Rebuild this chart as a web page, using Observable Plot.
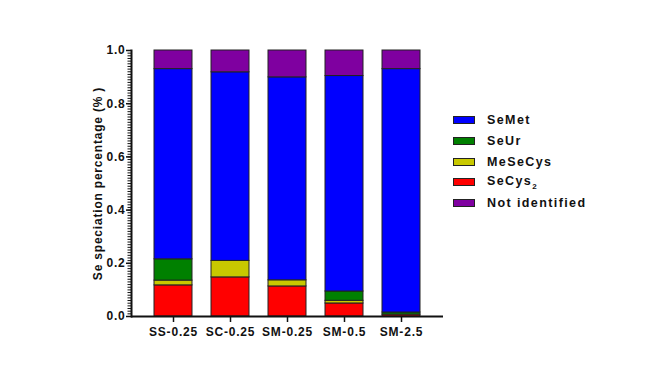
<!DOCTYPE html>
<html>
<head>
<meta charset="utf-8">
<script src="https://cdn.jsdelivr.net/npm/d3@7"></script>
<script src="https://cdn.jsdelivr.net/npm/@observablehq/plot@0.6"></script>
<style>
  html, body { margin: 0; padding: 0; background: #fff; }
  #wrap { position: relative; width: 661px; height: 371px; font-family: "Liberation Sans", Arial, sans-serif; }
  #legend { position: absolute; left: 453px; top: 110px; font-weight: bold; font-size: 12.5px; letter-spacing: 1.4px; color: #111; }
  #legend .row { display: flex; align-items: center; height: 20.7px; }
  #legend .sw { width: 20px; height: 6px; border: 1px solid #222; margin-right: 12px; }
  #legend sub { font-size: 8px; letter-spacing: 0; }
</style>
</head>
<body>
<div id="wrap"></div>
<script>
const samples = ["SS-0.25", "SC-0.25", "SM-0.25", "SM-0.5", "SM-2.5"];
const secys2 = [0.117, 0.147, 0.113, 0.049, 0.007];
const mesecys = [0.018, 0.062, 0.023, 0.010, 0];
const seur = [0.080, 0, 0, 0.035, 0.008];
const semet = [0.715, 0.709, 0.763, 0.810, 0.915];
const notIdentified = [0.070, 0.082, 0.101, 0.096, 0.070];

const stackOrder = ["SeCys2", "MeSeCys", "SeUr", "SeMet", "Not identified"];
const legendOrder = ["SeMet", "SeUr", "MeSeCys", "SeCys2", "Not identified"];
const legendLabels = {"SeMet": "SeMet", "SeUr": "SeUr", "MeSeCys": "MeSeCys", "SeCys2": "SeCys<sub>2</sub>", "Not identified": "Not identified"};
const colors = {"SeCys2": "#ff0000", "MeSeCys": "#c8c800", "SeUr": "#008000", "SeMet": "#0000ff", "Not identified": "#7f00a0"};
const yTicks = [0, 0.2, 0.4, 0.6, 0.8, 1.0];
const yMinorTicks = d3.range(0, 101).map(i => i / 100);

const series = {"SeCys2": secys2, "MeSeCys": mesecys, "SeUr": seur, "SeMet": semet, "Not identified": notIdentified};
const rows = [];
samples.forEach((s, i) => {
  stackOrder.forEach(k => rows.push({sample: s, species: k, value: series[k][i]}));
});

const plot = Plot.plot({
  width: 661,
  height: 371,
  marginLeft: 131,
  marginRight: 218,
  marginTop: 50,
  marginBottom: 55,
  style: {fontFamily: "'Liberation Sans', Arial, sans-serif", fontSize: "12px", fontWeight: "bold", color: "#111", letterSpacing: "0.8px"},
  x: {domain: samples, paddingInner: 0.34, paddingOuter: 0.38, label: null},
  y: {domain: [0, 1]},
  color: {domain: stackOrder, range: stackOrder.map(k => colors[k])},
  marks: [
    Plot.barY(rows, {x: "sample", y: "value", fill: "species", order: stackOrder, stroke: "#222", strokeWidth: 1, filter: d => d.value > 0}),
    Plot.axisY({ticks: yMinorTicks, tickSize: 3.5, text: null, label: null, strokeWidth: 1}),
    Plot.axisY({ticks: yTicks, tickSize: 5, tickFormat: ".1f", tickPadding: 1, strokeWidth: 1.5, label: null}),
    Plot.axisY({ticks: [], tickSize: 0, label: "Se speciation percentage (% )", labelAnchor: "center", labelArrow: "none", labelOffset: 38}),
    Plot.axisX({tickSize: 6, tickPadding: 5, strokeWidth: 1.5, label: null}),
    Plot.frame({anchor: "left", stroke: "#111", strokeWidth: 2}),
    Plot.ruleY([0], {stroke: "#111", strokeWidth: 2})
  ]
});

const wrap = document.getElementById("wrap");
wrap.appendChild(plot);

const legend = document.createElement("div");
legend.id = "legend";
legendOrder.forEach(k => {
  const row = document.createElement("div");
  row.className = "row";
  row.innerHTML = `<div class="sw" style="background:${colors[k]}"></div><span>${legendLabels[k]}</span>`;
  legend.appendChild(row);
});
wrap.appendChild(legend);
</script>
</body>
</html>
